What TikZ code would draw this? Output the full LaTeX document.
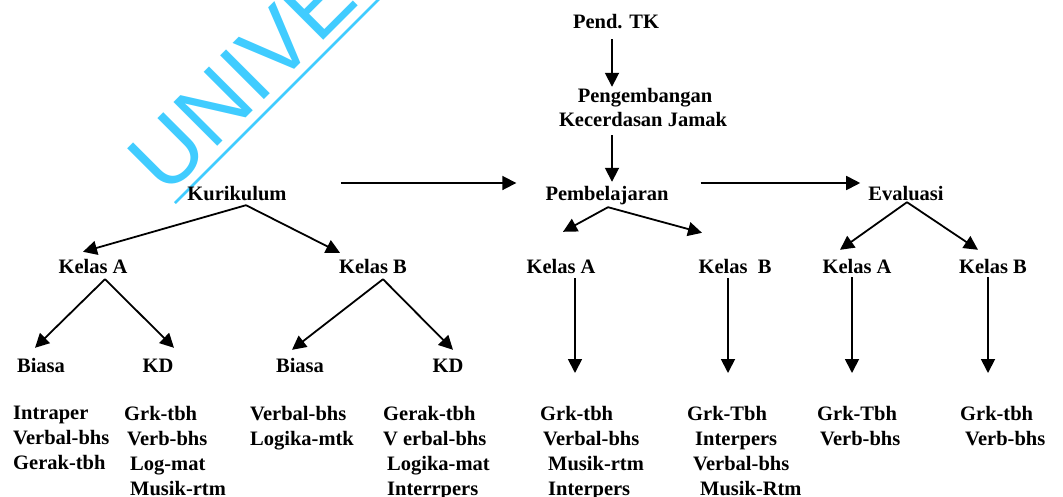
\documentclass[tikz,border=0pt]{standalone}
\usepackage{fontspec}
\setmainfont{Liberation Serif}
\newfontfamily\wmfont{Liberation Sans}
\usetikzlibrary{arrows.meta,calc}
\definecolor{wmblue}{RGB}{64,204,255}
\begin{document}
\begin{tikzpicture}[x=1pt,y=-1pt,
  lbl/.style={font=\fontsize{20.5}{25}\selectfont\bfseries, inner sep=0pt, text height=14pt, text depth=4pt, anchor=base},
  col/.style={font=\fontsize{20.5}{25}\selectfont\bfseries, inner sep=0pt, align=left, anchor=north west},
  arr/.style={line width=1.8pt, -{Triangle[length=14pt,width=14pt]}},
  wm/.style={font=\wmfont\fontsize{90}{100}\selectfont, text=wmblue, inner sep=0pt, anchor=base west, rotate=45}]
\useasboundingbox (0,0) rectangle (1063,496);
% watermark
\begin{scope}
\clip (0,0) rectangle (1063,496);
\node[wm] (wmtext) at (166.5,197.3) {UNIVE};
\coordinate (wmA) at (175,203);
\coordinate (wmB) at (385,-7);
\draw[wmblue, line width=2.7pt] (wmA) -- (wmB);
\end{scope}
% top chain
\node[lbl] (pend) at (616,28) {Pend. TK};
\node[lbl] (peng1) at (645,102) {Pengembangan};
\node[lbl] (peng2) at (643,126) {Kecerdasan Jamak};
\node[lbl] (pemb) at (607,200) {Pembelajaran};
\node[lbl] (kur) at (237,200) {Kurikulum};
\node[lbl] (eval) at (906,200) {Evaluasi};
% kelas
\node[lbl] (ka1) at (93,273) {Kelas A};
\node[lbl] (kb1) at (373,273) {Kelas B};
\node[lbl] (ka2) at (561,273) {Kelas A};
\node[lbl] (kb2) at (735,273) {Kelas\ \ B};
\node[lbl] (ka3) at (857,273) {Kelas A};
\node[lbl] (kb3) at (993,273) {Kelas B};
% biasa / KD
\node[lbl] (bi1) at (41,372) {Biasa};
\node[lbl] (kd1) at (158,372) {KD};
\node[lbl] (bi2) at (300,372) {Biasa};
\node[lbl] (kd2) at (448,372) {KD};
% columns
\node[col] (c1) at (13,406) {Intraper\\Verbal-bhs\\Gerak-tbh};
\node[col] (c2) at (124,406) {Grk-tbh\\\hspace*{3pt}Verb-bhs\\\hspace*{6pt}Log-mat\\\hspace*{6pt}Musik-rtm};
\node[col] (c3) at (250,406) {Verbal-bhs\\Logika-mtk};
\node[col] (c4) at (383,406) {Gerak-tbh\\V erbal-bhs\\\hspace*{4pt}Logika-mat\\\hspace*{4pt}Interrpers};
\node[col] (c5) at (540,406) {Grk-tbh\\\hspace*{3pt}Verbal-bhs\\\hspace*{8pt}Musik-rtm\\\hspace*{8pt}Interpers};
\node[col] (c6) at (687,406) {Grk-Tbh\\\hspace*{8pt}Interpers\\\hspace*{6pt}Verbal-bhs\\\hspace*{13pt}Musik-Rtm};
\node[col] (c7) at (817,406) {Grk-Tbh\\\hspace*{3pt}Verb-bhs};
\node[col] (c8) at (960,406) {Grk-tbh\\\hspace*{5pt}Verb-bhs};
% arrows
\draw[arr] ($(pend.south)+(-4,7)$) -- ($(peng1.north)+(-33,-1)$);
\draw[arr] ($(peng2.south)+(-31,5)$) -- ($(pemb.north)+(5,-4)$);
\draw[arr] ($(kur.east)+(54,-12)$) -- ($(pemb.west)+(-29,-12)$);
\draw[arr] ($(pemb.east)+(32,-12)$) -- ($(eval.west)+(-8,-12)$);
\draw[arr] ($(kur.south)+(9,1)$) -- ($(ka1.north)+(-10,-7)$);
\draw[arr] ($(kur.south)+(9,1)$) -- ($(kb1.north)+(-33,-6)$);
\draw[arr] ($(ka1.south)+(12,2)$) -- ($(bi1.north)+(-6,-10)$);
\draw[arr] ($(ka1.south)+(12,2)$) -- ($(kd1.north)+(16,-10)$);
\draw[arr] ($(kb1.south)+(10,2)$) -- ($(bi2.north)+(-8,-8)$);
\draw[arr] ($(kb1.south)+(10,2)$) -- ($(kd2.north)+(5,-8)$);
\draw[arr] ($(pemb.south)+(1,3)$) -- ($(ka2.north)+(2,-27)$);
\draw[arr] ($(pemb.south)+(1,3)$) -- ($(kb2.north)+(-33,-26)$);
\draw[arr] ($(eval.south)+(1,-2)$) -- ($(ka3.north)+(-17,-9)$);
\draw[arr] ($(eval.south)+(1,-2)$) -- ($(kb3.north)+(-15,-9)$);
\draw[arr] ($(ka2.south)+(14,1)$) -- ($(c5.north west)+(35,-33)$);
\draw[arr] ($(kb2.south)+(-7,1)$) -- ($(c6.north west)+(41,-33)$);
\draw[arr] ($(ka3.south)+(-5,0)$) -- ($(c7.north west)+(35,-33)$);
\draw[arr] ($(kb3.south)+(-5,0)$) -- ($(c8.north west)+(28,-33)$);
\end{tikzpicture}
\end{document}
